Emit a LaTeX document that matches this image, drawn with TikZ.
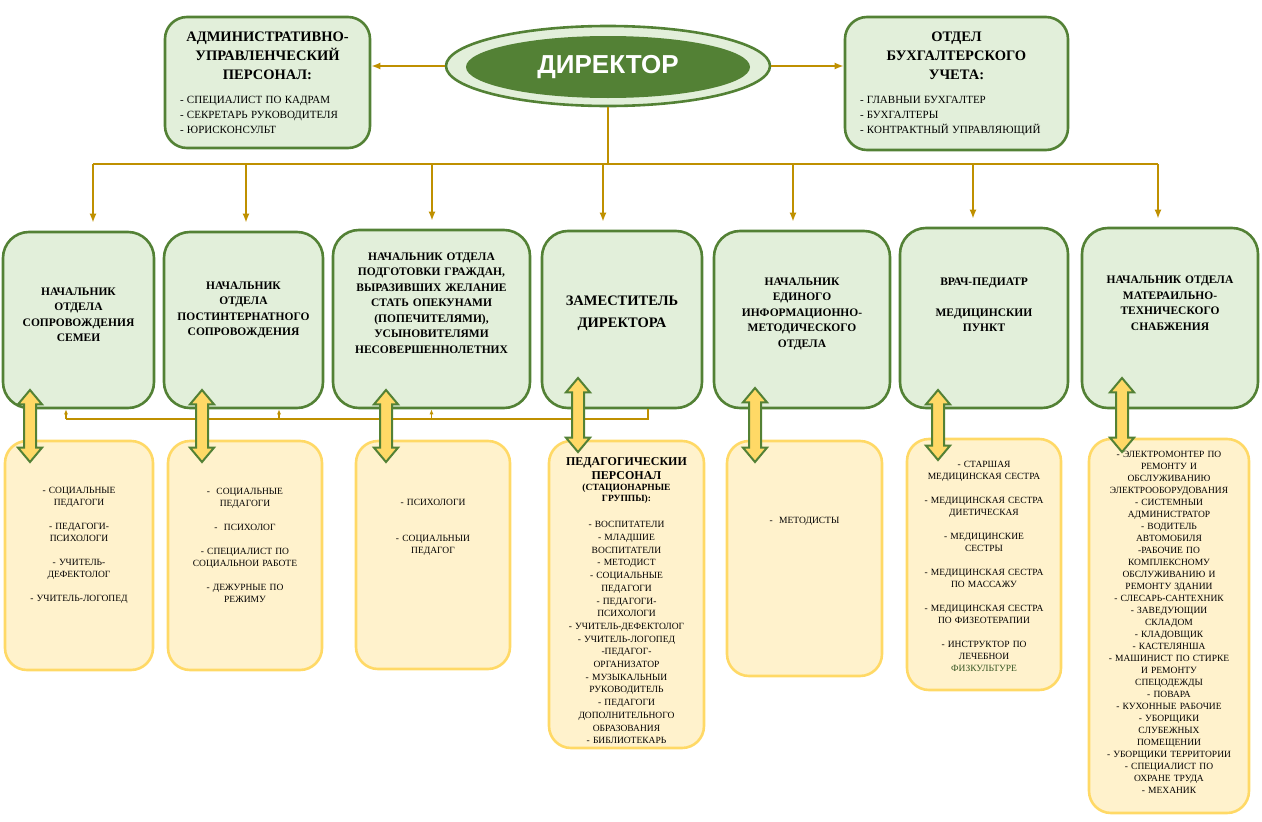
\documentclass[tikz,border=0pt]{standalone}
\usepackage{fontspec}
\setmainfont{Liberation Serif}
\newfontfamily\headfont{Liberation Sans}
\usetikzlibrary{arrows.meta,positioning,shapes.geometric,shapes.arrows}
\definecolor{leaf}{HTML}{538135}
\definecolor{leaffill}{HTML}{E2EFDA}
\definecolor{gold}{HTML}{BF9000}
\definecolor{cream}{HTML}{FFF2CC}
\definecolor{creamedge}{HTML}{FFD966}
\definecolor{darkleaf}{HTML}{375623}
\tikzset{
  >={Latex[length=2.2mm]},
  topbox/.style={draw=leaf, line width=2.6pt, fill=leaffill, rounded corners=22pt, inner sep=0pt},
  unitbox/.style={topbox, rounded corners=26pt},
  staffbox/.style={draw=creamedge, line width=2.6pt, fill=cream, rounded corners=22pt, inner sep=0pt},
  unittext/.style={align=center, text width=190pt, inner sep=0pt, font=\fontsize{11.5}{15.5}\selectfont\bfseries},
  stafftext/.style={align=center, text width=160pt, inner sep=0pt, font=\fontsize{9.5}{12}\selectfont},
  orgline/.style={draw=gold, line width=2.4pt},
  drop/.style={draw=gold, line width=2pt, -{Latex[length=9pt,width=7pt]}},
  feedline/.style={draw=gold, line width=1.3pt},
  twoway/.style={double arrow, rotate=90, draw=leaf, fill=creamedge, line width=2pt,
    inner sep=5pt, double arrow head extend=6pt, double arrow tip angle=80, minimum height=72pt},
}

\begin{document}
\begin{tikzpicture}[x=1pt,y=-1pt]
  \useasboundingbox (0,0) rectangle (1262,822);

  % director
  \node[ellipse, draw=leaf, line width=2.6pt, fill=leaffill, minimum width=324pt, minimum height=80pt] (dir) at (608,66) {};
  \node[ellipse, fill=leaf, minimum width=284pt, minimum height=62pt, text=white,
    font=\headfont\bfseries\fontsize{26}{30}\selectfont] (dirname) at (608,67) {ДИРЕКТОР};

  % top boxes
  \node[topbox, minimum width=205pt, minimum height=131pt, text width=175pt] (adm) at (267.5,82.5)
    {{\centering\fontsize{14.5}{19}\selectfont\bfseries АДМИНИСТРАТИВНО-\\УПРАВЛЕНЧЕСКИЙ\\ПЕРСОНАЛ:\par}\vspace{9pt}%
     {\raggedright\fontsize{11}{15}\selectfont - СПЕЦИАЛИСТ ПО КАДРАМ\\- СЕКРЕТАРЬ РУКОВОДИТЕЛЯ\\- ЮРИСКОНСУЛЬТ\par}};
  \node[topbox, minimum width=223pt, minimum height=133pt, text width=193pt] (acc) at (956.5,83.5)
    {{\centering\fontsize{14.5}{19}\selectfont\bfseries ОТДЕЛ\\БУХГАЛТЕРСКОГО\\УЧЕТА:\par}\vspace{9pt}%
     {\raggedright\fontsize{11}{15}\selectfont - ГЛАВНЫИ БУХГАЛТЕР\\- БУХГАЛТЕРЫ\\- КОНТРАКТНЫЙ УПРАВЛЯЮЩИЙ\par}};

  % units
  \node[unitbox, minimum width=151pt, minimum height=176pt] (m1) at (78.5,320) {};
  \node[unitbox, minimum width=159pt, minimum height=176pt] (m2) at (243.5,320) {};
  \node[unitbox, minimum width=197pt, minimum height=178pt] (m3) at (431.5,319) {};
  \node[unitbox, minimum width=160pt, minimum height=177pt] (m4) at (622,319.5) {};
  \node[unitbox, minimum width=176pt, minimum height=177pt] (m5) at (802,319.5) {};
  \node[unitbox, minimum width=168pt, minimum height=180pt] (m6) at (984,318) {};
  \node[unitbox, minimum width=176pt, minimum height=180pt] (m7) at (1170,318) {};

  \node[unittext] (m1t) at ([yshift=5pt]m1.center) {НАЧАЛЬНИК\\ОТДЕЛА\\СОПРОВОЖДЕНИЯ\\СЕМЕИ};
  \node[unittext] (m2t) at ([yshift=10pt]m2.center) {НАЧАЛЬНИК\\ОТДЕЛА\\ПОСТИНТЕРНАТНОГО\\СОПРОВОЖДЕНИЯ};
  \node[unittext] (m3t) at ([yshift=16pt]m3.center) {НАЧАЛЬНИК ОТДЕЛА\\ПОДГОТОВКИ ГРАЖДАН,\\ВЫРАЗИВШИХ ЖЕЛАНИЕ\\СТАТЬ ОПЕКУНАМИ\\(ПОПЕЧИТЕЛЯМИ),\\УСЫНОВИТЕЛЯМИ\\НЕСОВЕРШЕННОЛЕТНИХ};
  \node[unittext, font=\fontsize{14.5}{22}\selectfont\bfseries] (m4t) at ([yshift=6pt]m4.center) {ЗАМЕСТИТЕЛЬ\\ДИРЕКТОРА};
  \node[unittext] (m5t) at ([yshift=6pt]m5.center) {НАЧАЛЬНИК\\ЕДИНОГО\\ИНФОРМАЦИОННО-\\МЕТОДИЧЕСКОГО\\ОТДЕЛА};
  \node[unittext] (m6t) at ([yshift=13pt]m6.center) {ВРАЧ-ПЕДИАТР\\[15pt]МЕДИЦИНСКИИ\\ПУНКТ};
  \node[unittext] (m7t) at ([yshift=15pt]m7.center) {НАЧАЛЬНИК ОТДЕЛА\\МАТЕРАИЛЬНО-\\ТЕХНИЧЕСКОГО\\СНАБЖЕНИЯ};

  % staff
  \node[staffbox, minimum width=148pt, minimum height=229pt] (b1) at (79,555.5) {};
  \node[staffbox, minimum width=154pt, minimum height=229pt] (b2) at (245,555.5) {};
  \node[staffbox, minimum width=154pt, minimum height=228pt] (b3) at (433,555) {};
  \node[staffbox, minimum width=155pt, minimum height=307pt] (b4) at (626.5,594.5) {};
  \node[staffbox, minimum width=155pt, minimum height=235pt] (b5) at (804.5,558.5) {};
  \node[staffbox, minimum width=154pt, minimum height=251pt] (b6) at (984,564.5) {};
  \node[staffbox, minimum width=160pt, minimum height=374pt] (b7) at (1169,626) {};

  \node[stafftext] (b1t) at ([yshift=10pt]b1.center)
    {- СОЦИАЛЬНЫЕ\\ПЕДАГОГИ\\[12pt]- ПЕДАГОГИ-\\ПСИХОЛОГИ\\[12pt]- УЧИТЕЛЬ-\\ДЕФЕКТОЛОГ\\[12pt]- УЧИТЕЛЬ-ЛОГОПЕД};
  \node[stafftext] (b2t) at ([yshift=10pt]b2.center)
    {-\ \ СОЦИАЛЬНЫЕ\\ПЕДАГОГИ\\[12pt]-\ \ ПСИХОЛОГ\\[12pt]- СПЕЦИАЛИСТ ПО\\СОЦИАЛЬНОИ РАБОТЕ\\[12pt]- ДЕЖУРНЫЕ ПО\\РЕЖИМУ};
  \node[stafftext] (b3t) at ([yshift=28pt]b3.center)
    {- ПСИХОЛОГИ\\[24pt]- СОЦИАЛЬНЫИ\\ПЕДАГОГ};
  \node[stafftext] (b4t) at ([yshift=-6pt]b4.center)
    {{\fontsize{12}{14}\selectfont\bfseries ПЕДАГОГИЧЕСКИИ\\ПЕРСОНАЛ\par}
     {\fontsize{9.5}{11}\selectfont\bfseries (СТАЦИОНАРНЫЕ\\ГРУППЫ):\par}\vspace{14pt}
     {\fontsize{9.5}{12.7}\selectfont - ВОСПИТАТЕЛИ\\- МЛАДШИЕ\\ВОСПИТАТЕЛИ\\- МЕТОДИСТ\\- СОЦИАЛЬНЫЕ\\ПЕДАГОГИ\\- ПЕДАГОГИ-\\ПСИХОЛОГИ\\- УЧИТЕЛЬ-ДЕФЕКТОЛОГ\\- УЧИТЕЛЬ-ЛОГОПЕД\\-ПЕДАГОГ-\\ОРГАНИЗАТОР\\- МУЗЫКАЛЬНЫИ\\РУКОВОДИТЕЛЬ\\- ПЕДАГОГИ\\ДОПОЛНИТЕЛЬНОГО\\ОБРАЗОВАНИЯ\\- БИБЛИОТЕКАРЬ\par}};
  \node[stafftext] (b5t) at ([yshift=37pt]b5.center) {-\ \ МЕТОДИСТЫ};
  \node[stafftext] (b6t) at ([yshift=-2pt]b6.center)
    {- СТАРШАЯ\\МЕДИЦИНСКАЯ СЕСТРА\\[12pt]- МЕДИЦИНСКАЯ СЕСТРА\\ДИЕТИЧЕСКАЯ\\[12pt]- МЕДИЦИНСКИЕ\\СЕСТРЫ\\[12pt]- МЕДИЦИНСКАЯ СЕСТРА\\ПО МАССАЖУ\\[12pt]- МЕДИЦИНСКАЯ СЕСТРА\\ПО ФИЗЕОТЕРАПИИ\\[12pt]- ИНСТРУКТОР ПО\\ЛЕЧЕБНОИ\\\textcolor{darkleaf}{ФИЗКУЛЬТУРЕ}};
  \node[stafftext, text width=170pt] (b7t) at ([yshift=4pt]b7.center)
    {- ЭЛЕКТРОМОНТЕР ПО\\РЕМОНТУ И\\ОБСЛУЖИВАНИЮ\\ЭЛЕКТРООБОРУДОВАНИЯ\\- СИСТЕМНЫИ\\АДМИНИСТРАТОР\\- ВОДИТЕЛЬ\\АВТОМОБИЛЯ\\-РАБОЧИЕ ПО\\КОМПЛЕКСНОМУ\\ОБСЛУЖИВАНИЮ И\\РЕМОНТУ ЗДАНИИ\\- СЛЕСАРЬ-САНТЕХНИК\\- ЗАВЕДУЮЩИИ\\СКЛАДОМ\\- КЛАДОВЩИК\\- КАСТЕЛЯНША\\- МАШИНИСТ ПО СТИРКЕ\\И РЕМОНТУ\\СПЕЦОДЕЖДЫ\\- ПОВАРА\\- КУХОННЫЕ РАБОЧИЕ\\- УБОРЩИКИ\\СЛУБЕЖНЫХ\\ПОМЕЩЕНИИ\\- УБОРЩИКИ ТЕРРИТОРИИ\\- СПЕЦИАЛИСТ ПО\\ОХРАНЕ ТРУДА\\- МЕХАНИК};

  % director links
  \draw[drop, line width=2.4pt] (dir.west) -- (dir.west -| adm.east);
  \draw[drop, line width=2.4pt] (dir.east) -- (dir.east -| acc.west);

  \coordinate (bus) at (0,164);
  \draw[orgline] (dir.south) -- (dir.south |- bus);
  \foreach \n/\dx in {m1/14.5,m2/2.5,m3/0.5,m4/-19,m5/-9,m6/-11,m7/-12}
    \coordinate (t\n) at ([xshift=\dx pt,yshift=8pt]\n.north);
  \draw[orgline] (tm1 |- bus) -- (tm7 |- bus);
  \foreach \n in {m1,m2,m3,m4,m5,m6,m7}
    \draw[drop] (t\n |- bus) -- (t\n);

  % deputy feedback
  \coordinate (f1) at ([xshift=-12.5pt]m1.south);
  \coordinate (f2) at ([xshift=35.5pt]m2.south);
  \coordinate (f3) at (m3.south);
  \coordinate (f4) at ([xshift=26pt]m4.south);
  \coordinate (fb) at (0,419);
  \draw[feedline] (f4) -- (f4 |- fb) -- (f1 |- fb);
  \foreach \f in {f1,f2,f3}
    \draw[feedline, -{Latex[length=5pt,width=4pt]}] (\f |- fb) -- (\f);

  % two-way links
  \node[twoway] (a1) at (30,426) {};
  \node[twoway] (a2) at (202,426) {};
  \node[twoway] (a3) at (386,426) {};
  \node[twoway, minimum height=74pt] (a4) at (578,415) {};
  \node[twoway, minimum height=74pt] (a5) at (755,425) {};
  \node[twoway, minimum height=70pt] (a6) at (938,425) {};
  \node[twoway, minimum height=74pt] (a7) at (1122,415) {};
\end{tikzpicture}
\end{document}
